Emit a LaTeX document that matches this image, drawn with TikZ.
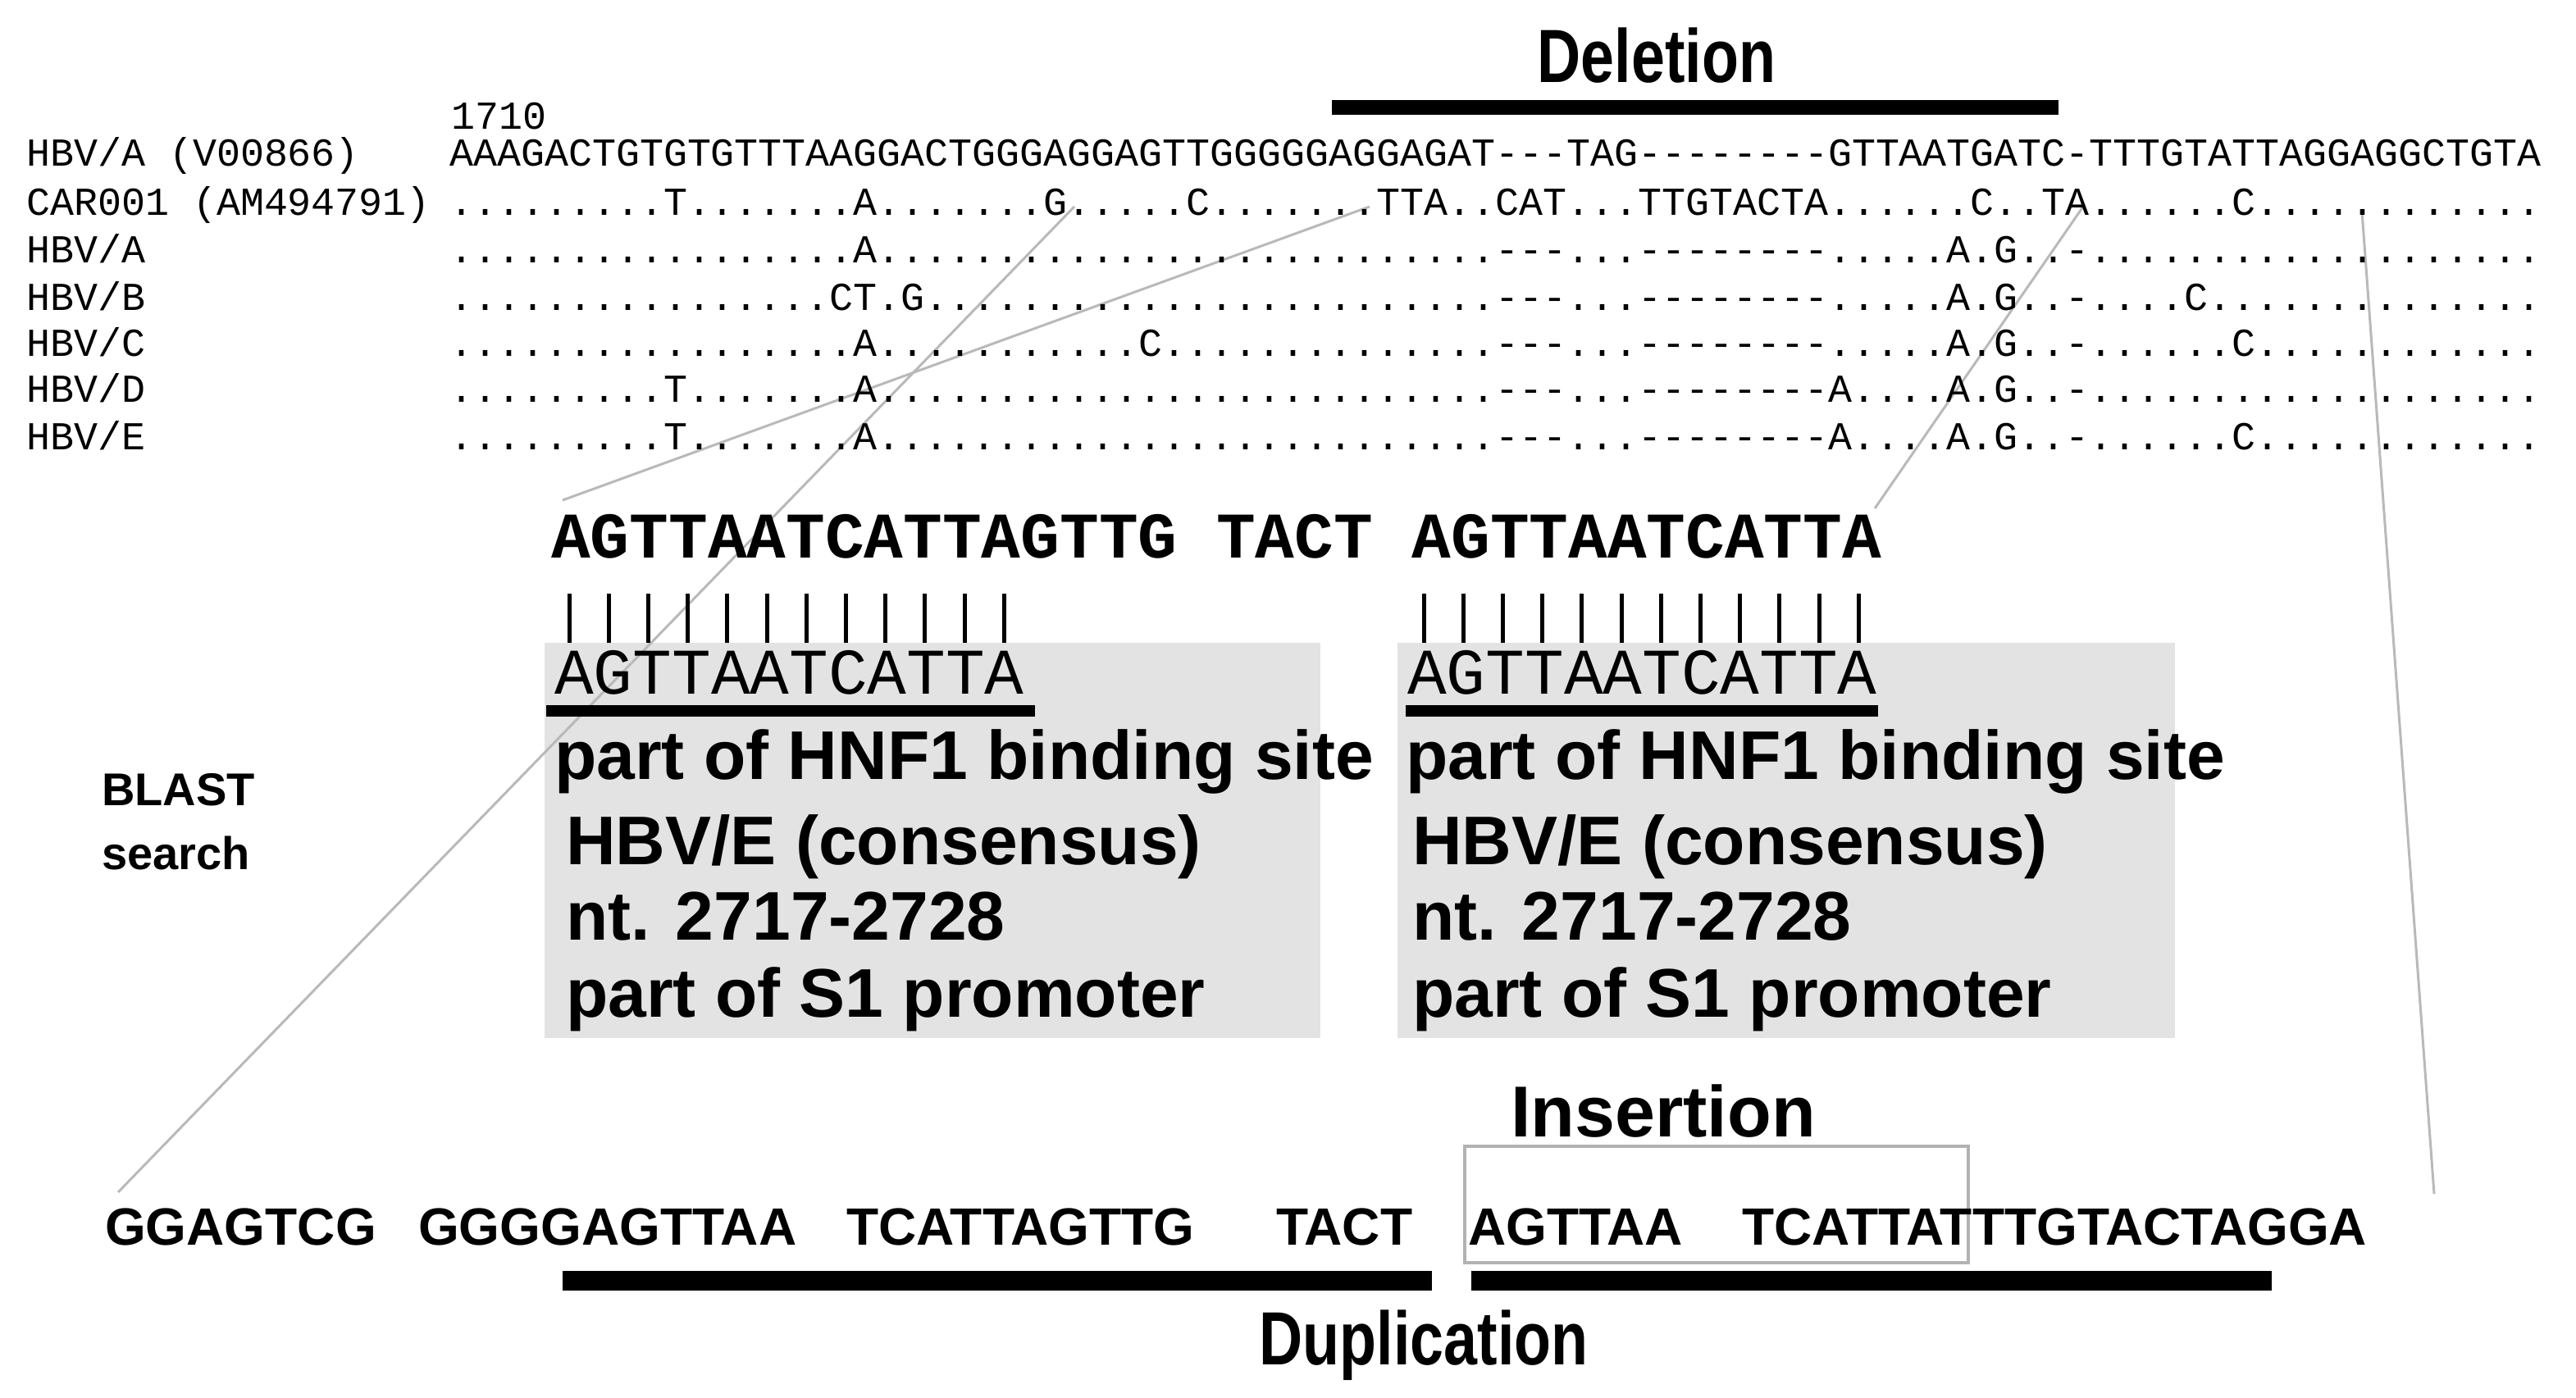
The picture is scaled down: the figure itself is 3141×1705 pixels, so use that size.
\documentclass[tikz,border=0pt]{standalone}
\usepackage{fontspec}
\setmainfont{Liberation Sans}
\newfontfamily\mono[Ligatures=TeXOff]{Liberation Mono}
\newfontfamily\cond[FakeStretch=0.8]{Liberation Sans}
\begin{document}
\begin{tikzpicture}[x=1pt,y=-1pt,
  aln/.style={anchor=base west,inner sep=0pt,font=\mono\fontsize{48.3}{50}\selectfont},
  big/.style={anchor=base west,inner sep=0pt,font=\mono\bfseries\fontsize{79.5}{80}\selectfont},
  boxseq/.style={anchor=base west,inner sep=0pt,font=\mono\fontsize{79.5}{80}\selectfont},
  info/.style={anchor=base west,inner sep=0pt,font=\bfseries\fontsize{84}{86}\selectfont},
  btm/.style={anchor=base west,inner sep=0pt,font=\bfseries\fontsize{64}{66}\selectfont},
  ttl/.style={anchor=base,inner sep=0pt,font=\cond\bfseries\fontsize{92}{94}\selectfont},
  glink/.style={draw=gray!55,line width=3pt},
  bar/.style={fill=black},
  tick/.style={line width=5pt}]
\useasboundingbox (0,0) rectangle (3141,1705);
% boxes
\fill[gray!22] (664,784) rectangle (1610,1266);
\fill[gray!22] (1704,784) rectangle (2652,1266);
% connecting lines
\coordinate (g1a) at (1310,252); \coordinate (g1b) at (144,1454);
\coordinate (g2a) at (1670,252); \coordinate (g2b) at (686,610);
\coordinate (g3a) at (2540,252); \coordinate (g3b) at (2286,620);
\coordinate (g4a) at (2880,258); \coordinate (g4b) at (2968,1456);
\draw[glink] (g1a) -- (g1b);
\draw[glink] (g2a) -- (g2b);
\draw[glink] (g3a) -- (g3b);
\draw[glink] (g4a) -- (g4b);
% deletion
\node[ttl] (del) at (2020,100) {Deletion};
\fill[bar] (1624,122) rectangle (2510,140);
% alignment
\node[aln] (pos) at (550,157) {1710};
\node[aln] (l0) at (32,202) {HBV/A (V00866)};
\node[aln] (l1) at (32,262) {CAR001 (AM494791)};
\node[aln] (l2) at (32,320) {HBV/A};
\node[aln] (l3) at (32,378) {HBV/B};
\node[aln] (l4) at (32,434) {HBV/C};
\node[aln] (l5) at (32,490) {HBV/D};
\node[aln] (l6) at (32,548) {HBV/E};
\node[aln] (s0) at (548,202) {AAAGACTGTGTGTTTAAGGACTGGGAGGAGTTGGGGGAGGAGAT---TAG--------GTTAATGATC-TTTGTATTAGGAGGCTGTA};
\node[aln] (s1) at (548,262) {.........T.......A.......G.....C.......TTA..CAT...TTGTACTA......C..TA......C............};
\node[aln] (s2) at (548,320) {.................A..........................---...--------.....A.G..-...................};
\node[aln] (s3) at (548,378) {................CT.G........................---...--------.....A.G..-....C..............};
\node[aln] (s4) at (548,434) {.................A...........C..............---...--------.....A.G..-......C............};
\node[aln] (s5) at (548,490) {.........T.......A..........................---...--------A....A.G..-...................};
\node[aln] (s6) at (548,548) {.........T.......A..........................---...--------A....A.G..-......C............};
% big sequence
\node[big] (bs) at (672,680) {AGTTAATCATTAGTTG TACT AGTTAATCATTA};
\foreach \i in {0,...,11}{
  \draw[tick] ({694+\i*48.2},724) -- ({694+\i*48.2},784);
  \draw[tick] ({1736+\i*48.2},724) -- ({1736+\i*48.2},784);
}
% box contents
\node[boxseq] (b1) at (676,846) {AGTTAATCATTA};
\fill[bar] (666,860) rectangle (1262,874);
\node[info] (i11) at (676,950) {part of HNF1 binding site};
\node[info] (i12) at (690,1054) {HBV/E (consensus)};
\node[info] (i13) at (690,1146) {nt. 2717-2728};
\node[info] (i14) at (690,1240) {part of S1 promoter};
\node[boxseq] (b2) at (1716,846) {AGTTAATCATTA};
\fill[bar] (1714,860) rectangle (2290,874);
\node[info] (i21) at (1714,950) {part of HNF1 binding site};
\node[info] (i22) at (1722,1054) {HBV/E (consensus)};
\node[info] (i23) at (1722,1146) {nt. 2717-2728};
\node[info] (i24) at (1722,1240) {part of S1 promoter};
% BLAST
\node[anchor=base west,inner sep=0pt,font=\bfseries\fontsize{56}{58}\selectfont] (bl1) at (124,982) {BLAST};
\node[anchor=base west,inner sep=0pt,font=\bfseries\fontsize{56}{58}\selectfont] (bl2) at (124,1060) {search};
% insertion
\node[anchor=base,inner sep=0pt,font=\bfseries\fontsize{88}{90}\selectfont] (ins) at (2028,1386) {Insertion};
\draw[draw=gray!60,line width=4pt] (1786,1398) rectangle (2400,1540);
% bottom sequence
\node[btm] (q1) at (128,1518) {GGAGTCG};
\node[btm] (q2) at (510,1518) {GGGGAGTTAA};
\node[btm] (q3) at (1032,1518) {TCATTAGTTG};
\node[btm] (q4) at (1556,1518) {TACT};
\node[btm] (q5) at (1790,1518) {AGTTAA};
\node[btm] (q6) at (2124,1518) {TCATTATTTGTACTAGGA};
\fill[bar] (686,1550) rectangle (1746,1574);
\fill[bar] (1794,1550) rectangle (2770,1574);
\node[ttl] (dup) at (1736,1664) {Duplication};
\end{tikzpicture}
\end{document}
